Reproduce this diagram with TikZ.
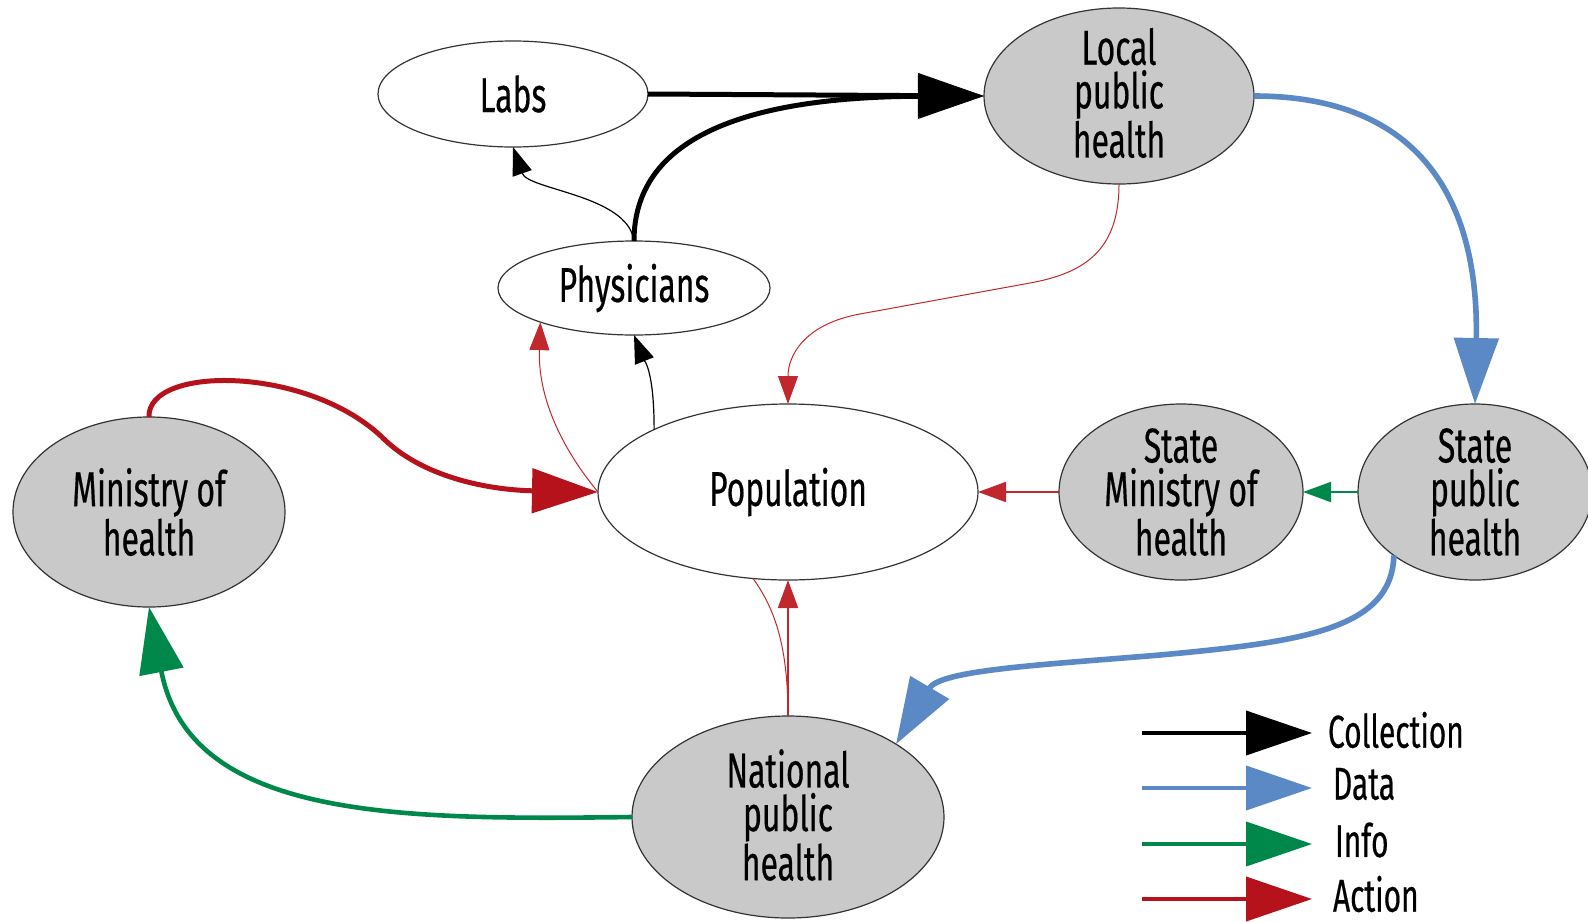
\documentclass[tikz,border=0pt]{standalone}
\usepackage{fontspec}
\setmainfont{Fira Sans}[FakeStretch=0.65,FakeBold=0.4]
\usetikzlibrary{arrows.meta,shapes.geometric}
\definecolor{nodegrey}{HTML}{C9C9C9}
\definecolor{cblue}{HTML}{5B89C6}
\definecolor{cgreen}{HTML}{00874A}
\definecolor{credthick}{HTML}{B5121B}
\definecolor{credthin}{HTML}{C0282D}
\begin{document}
\begin{tikzpicture}[x=0.5pt,y=-0.5pt,
  every node/.style={inner sep=0pt,outer sep=0pt},
  lbl/.style={font=\fontsize{24.5}{21.8}\selectfont,align=center,text=black},
  legtext/.style={font=\fontsize{23}{22}\selectfont,anchor=west,text=black},
  plainell/.style={ellipse,draw=black!80,line width=0.6pt,fill=white},
  greyell/.style={plainell,fill=nodegrey},
  bighead/.style={-{Triangle[length=33pt,width=22pt]}},
  smallhead/.style={-{Triangle[length=14pt,width=10pt]}},
  collectthick/.style={draw=black,line width=2.5pt,bighead},
  datathick/.style={draw=cblue,line width=2.8pt,bighead},
  infothick/.style={draw=cgreen,line width=2.3pt,bighead},
  actthick/.style={draw=credthick,line width=2.5pt,bighead},
  collectthin/.style={draw=black,line width=0.6pt,smallhead},
  actthin/.style={draw=credthin,line width=0.5pt,smallhead},
  actmid/.style={draw=credthin,line width=1pt,smallhead},
  infomid/.style={draw=cgreen,line width=1pt,smallhead},
  legline/.style={line width=2pt}
]
\useasboundingbox (0,0) rectangle (1588,921);

% ellipses
\node[plainell,minimum width=135pt,minimum height=53pt] (labs) at (513,94) {};
\node[greyell,minimum width=135pt,minimum height=88pt] (local) at (1119,96) {};
\node[plainell,minimum width=136pt,minimum height=47pt] (phys) at (634,288) {};
\node[plainell,minimum width=190pt,minimum height=88pt] (pop) at (788,492) {};
\node[greyell,minimum width=136pt,minimum height=95pt] (moh) at (149,512) {};
\node[greyell,minimum width=122pt,minimum height=88pt] (smoh) at (1181,492) {};
\node[greyell,minimum width=117pt,minimum height=88pt] (sph) at (1475,492) {};
\node[greyell,minimum width=156pt,minimum height=101pt] (nph) at (788,817) {};

% texts
\node[lbl] (labsT) at (labs) {Labs};
\node[lbl] (localT) at ([yshift=1.5pt]local.center) {Local\\public\\health};
\node[lbl] (physT) at (phys) {Physicians};
\node[lbl] (popT) at (pop) {Population};
\node[lbl] (mohT) at (moh) {Ministry of\\health};
\node[lbl] (smohT) at (smoh) {State\\Ministry of\\health};
\node[lbl] (sphT) at (sph) {State\\public\\health};
\node[lbl] (nphT) at ([yshift=1pt]nph.center) {National\\public\\health};

% collection
\draw[collectthick] (labs.east) -- (local.west);
\draw[collectthick] (phys.north) .. controls (634,140) and (740,97) .. (local.west);
\draw[collectthin] (phys.north) .. controls (628,195) and (528,190) .. (labs.south);
\draw[collectthin] (pop.155) .. controls +(0,-60) and +(10,25) .. (phys.south);

% action
\draw[actthin] (pop.west) .. controls (555,440) and (538,390) .. (phys.200);
\draw[actthin] (local.south) .. controls (1119,250) and (1085,273) .. (1030,283)
   -- (860,314) .. controls (805,324) and (788,355) .. (pop.north);
\draw[actthick] (moh.north) .. controls (147,365) and (310,365) .. (385,440)
   .. controls (425,478) and (490,490) .. (pop.west);
\draw[actmid] (smoh.west) -- (pop.east);
\draw[actmid] (nph.north) -- (pop.south);
\draw[credthin,line width=0.5pt] (pop.248) .. controls (772,605) and (788,640) .. (nph.north);

% info
\draw[infomid] (sph.west) -- (smoh.east);
\draw[infothick] (nph.west) .. controls (400,820) and (190,820) .. (moh.south);

% data
\draw[datathick] (local.east) .. controls (1420,96) and (1479,200) .. (sph.north);
\draw[datathick] (sph.218) .. controls (1392,630) and (1300,642) .. (1160,655)
   .. controls (1040,665) and (940,670) .. (nph.34);

% legend
\coordinate (l1a) at (1142,733); \coordinate (l1b) at (1312,733);
\coordinate (l2a) at (1142,788); \coordinate (l2b) at (1312,788);
\coordinate (l3a) at (1142,844); \coordinate (l3b) at (1312,844);
\coordinate (l4a) at (1142,899); \coordinate (l4b) at (1312,899);
\draw[collectthick,legline] (l1a) -- (l1b);
\draw[datathick,legline] (l2a) -- (l2b);
\draw[infothick,legline] (l3a) -- (l3b);
\draw[actthick,legline] (l4a) -- (l4b);
\node[legtext] (leg1) at (1328,730) {Collection};
\node[legtext] (leg2) at (1333,784) {Data};
\node[legtext] (leg3) at (1335,840) {Info};
\node[legtext] (leg4) at (1333,894) {Action};
\end{tikzpicture}
\end{document}
